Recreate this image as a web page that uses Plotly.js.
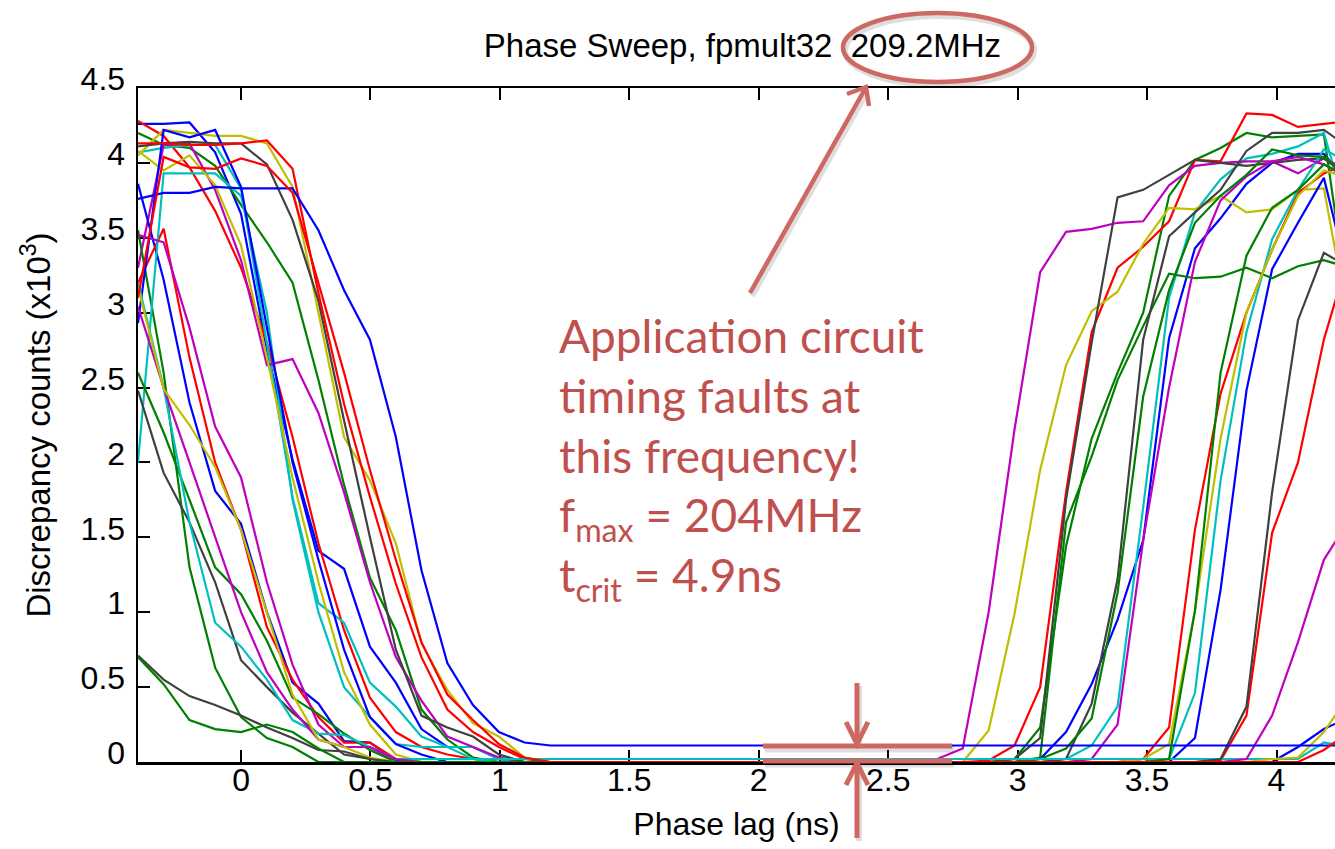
<!DOCTYPE html>
<html>
<head>
<meta charset="utf-8">
<script src="https://cdn.plot.ly/plotly-3.0.1.min.js"></script>
<style>html,body{margin:0;padding:0;background:#fff;}#chart{width:1335px;height:849px;}</style>
</head>
<body>
<div id="chart"></div>
<script>
// Phase lag (ns) sample positions
const phase = [-0.398,-0.299,-0.199,-0.100,0,0.100,0.199,0.299,0.398,0.498,0.598,0.697,0.797,0.896,0.996,1.095,1.195,1.295,1.394,1.494,1.593,1.693,1.793,1.892,1.992,2.091,2.191,2.290,2.390,2.490,2.589,2.689,2.788,2.888,2.988,3.087,3.187,3.286,3.386,3.485,3.585,3.685,3.784,3.884,3.983,4.083,4.183,4.282];

// Discrepancy counts (x10^3), one array per run
const run01 = [4.26,4.26,4.27,4.07,3.66,2.75,2.02,1.41,1.29,0.77,0.53,0.22,0.10,0.10,0.02,0,0, 0,0,0,0,0,0,0, 0,0,0,0,0,0,0, 0,0,0,0,0.02,0.2,0.52,0.95,1.48,2.83,3.43,3.63,3.86,4.0,4.06,4.06,3.85];
const run02 = [4.2,4.12,4.1,3.98,3.72,3.47,3.2,2.55,1.85,1.23,0.88,0.35,0.15,0.03,0,0,0, 0,0,0,0,0,0,0, 0,0,0,0,0,0,0, 0,0,0,0.02,0.23,1.44,2.16,2.6,3.0,3.78,4.02,4.1,4.2,4.17,4.18,4.19,3.0];
const run03 = [4.28,4.18,3.97,3.68,3.3,2.8,2.17,1.46,0.88,0.43,0.2,0.1,0.05,0.02,0,0,0, 0,0,0,0,0,0,0, 0,0,0,0,0,0,0, 0,0,0.01,0.11,0.5,1.8,2.87,3.3,3.44,3.61,4.02,4.01,4.33,4.32,4.24,4.26,4.28];
const run04 = [4.07,4.1,4.12,4.12,3.83,2.8,1.77,1.06,0.93,0.53,0.37,0.17,0.1,0.1,0.02,0,0, 0,0,0,0,0,0,0, 0,0,0,0,0,0,0, 0,0,0,0,0,0.02,0.11,0.37,1.7,3.1,3.67,3.89,4.03,4.06,4.11,4.2,3.6];
const run05 = [3.3,4.12,4.13,3.82,3.35,2.65,2.69,2.33,1.8,1.2,0.7,0.41,0.17,0.1,0.03,0,0, 0,0,0,0,0,0,0, 0,0,0,0,0,0,0, 0.02,0.09,1.0,2.22,3.27,3.54,3.56,3.6,3.61,3.85,3.98,4.0,4.01,4.01,3.93,4.03,3.95];
const run06 = [4.05,4.22,4.2,4.18,4.18,4.13,3.84,3.0,2.17,1.88,1.46,0.79,0.48,0.26,0.17,0.03,0, 0,0,0,0,0,0,0, 0,0,0,0,0,0,0, 0,0,0.21,0.99,1.95,2.65,3.01,3.14,3.46,3.7,3.69,3.78,3.67,3.69,3.82,3.83,2.9];
const run07 = [4.11,4.13,4.14,4.13,4.13,3.99,3.62,3.08,2.28,1.5,0.75,0.31,0.23,0.17,0.05,0,0, 0,0,0,0,0,0,0, 0,0,0,0,0,0,0, 0,0,0,0.02,0.16,1.75,2.8,3.77,3.82,3.92,4.02,4.0,3.98,4.0,4.02,4.03,3.9];
const run08 = [3.86,3.22,2.4,1.81,1.59,1.0,0.53,0.39,0.14,0.13,0.01,0,0,0,0,0,0, 0,0,0,0,0,0,0, 0,0,0,0,0,0,0, 0,0,0,0,0,0,0,0,0,0,0.16,1.15,2.48,3.29,3.6,3.9,3.2];
const run09 = [3.55,2.6,1.3,0.63,0.3,0.16,0.1,0,0,0,0,0,0,0,0,0,0, 0,0,0,0,0,0,0, 0,0,0,0,0,0,0, 0,0,0,0,0.03,1.6,2.04,2.55,2.91,3.26,3.23,3.24,3.3,3.23,3.31,3.35,3.3];
const run10 = [3.2,3.56,2.7,2.0,1.55,0.9,0.55,0.3,0.13,0.13,0.02,0,0,0,0,0,0, 0,0,0,0,0,0,0, 0,0,0,0,0,0,0, 0,0,0,0,0,0,0,0,0.02,0.23,1.55,2.46,3.0,3.42,3.8,3.93,4.0];
const run11 = [2.0,3.93,3.93,3.93,3.78,3.0,1.75,1.0,0.5,0.3,0.12,0.1,0.1,0.02,0,0,0, 0,0,0,0,0,0,0, 0,0,0,0,0,0,0, 0,0,0,0,0,0,0,0,0,0.02,0.46,1.88,2.87,3.49,3.82,4.09,4.0];
const run12 = [3.52,3.47,2.9,2.24,1.9,1.2,0.65,0.25,0.1,0.1,0,0,0,0,0,0,0, 0,0,0,0,0,0,0, 0,0,0,0,0,0,0, 0,0,0,0,0,0,0.02,0.25,1.48,2.5,3.34,3.75,3.91,4.01,4.04,3.99,3.9];
const run13 = [4.08,3.95,4.05,3.85,3.45,2.7,1.9,1.2,0.6,0.25,0.05,0,0,0,0,0,0, 0,0,0,0,0,0,0, 0,0,0,0,0,0,0, 0,0,0,0,0,0,0,0,0.02,0.12,1.01,2.16,3.0,3.42,3.78,3.95,3.9];
const run14 = [2.48,1.93,1.6,1.2,0.68,0.5,0.33,0.19,0.05,0.02,0,0,0,0,0,0,0, 0,0,0,0,0,0,0, 0,0,0,0,0,0,0, 0,0,0,0,0,0.02,0.39,1.22,2.82,3.51,3.67,3.82,4.08,4.2,4.2,4.22,4.1];
const run15 = [2.93,4.22,4.17,4.22,3.84,2.9,2.0,1.35,0.75,0.3,0.12,0.05,0,0,0,0,0, 0,0,0,0,0,0,0, 0,0,0,0,0,0,0, 0,0,0,0,0,0,0,0,0,0,0,0,0,0,0.1,0.22,0.3];
const run16 = [2.6,2.2,1.75,1.3,1.12,0.81,0.43,0.32,0.19,0.08,0,0,0,0,0,0,0, 0,0,0,0,0,0,0, 0,0,0,0,0,0,0, 0,0,0,0,0.02,0.09,0.29,1.13,2.44,3.15,3.6,3.78,3.92,4.09,4.05,4.04,3.9];
const run17 = [4.13,4.13,4.12,4.12,4.13,4.15,3.96,3.13,2.39,1.77,1.19,0.7,0.35,0.2,0.1,0.02,0, 0,0,0,0,0,0,0, 0,0,0,0,0,0,0, 0,0,0,0,0,0,0,0,0,0,0,0.01,0.31,1.53,2.0,2.82,3.4];
const run18 = [3.2,2.5,1.6,0.93,0.77,0.55,0.28,0.19,0.18,0.1,0.02,0.02,0.02,0.02,0.02,0.02,0.02, 0.02,0.02,0.02,0.02,0.02,0.02,0.02, 0.02,0.02,0.02,0.02,0.02,0.02,0.02, 0.02,0.02,0.02,0.02,0.02,0.02,0.02,0.02,0.02,0.02,0.02,0.02,0.02,0.02,0.02,0.13,0.1];
const run19 = [3.04,2.5,2.0,1.5,1.0,0.6,0.35,0.15,0.1,0.1,0.02,0,0,0,0,0,0, 0,0,0,0,0,0,0, 0,0,0,0,0,0,0, 0,0,0,0,0,0,0,0,0,0,0,0,0.02,0.31,0.8,1.35,1.62];
const run20 = [3.17,2.49,2.25,1.97,1.55,1.0,0.45,0.15,0.1,0.03,0,0,0,0,0,0,0, 0,0,0,0,0,0,0, 0,0,0,0,0,0,0, 0,0,0,0,0,0,0,0,0,0,0,0,0,0.02,0.03,0.2,0.45];
const run21 = [0.71,0.55,0.44,0.38,0.31,0.23,0.16,0.08,0.07,0.02,0,0,0,0,0,0,0, 0,0,0,0,0,0,0, 0,0,0,0,0,0,0, 0,0,0,0,0,0,0,0,0,0,0,0.02,0.37,1.8,2.95,3.4,3.3];
const run22 = [3.76,3.8,3.8,3.84,3.83,3.83,3.83,3.55,3.15,2.82,2.17,1.28,0.66,0.38,0.2,0.13,0.11, 0.11,0.11,0.11,0.11,0.11,0.11,0.11, 0.11,0.11,0.11,0.11,0.11,0.11,0.11, 0.11,0.11,0.11,0.11,0.11,0.11,0.11,0.11,0.11,0.11,0.11,0.11,0.11,0.11,0.11,0.11,0.11];
const run23 = [0.7,0.52,0.28,0.22,0.2,0.25,0.2,0.09,0,0,0,0,0,0,0,0,0, 0,0,0,0,0,0,0, 0,0,0,0,0,0,0, 0,0,0,0,0,0,0,0,0,0.02,1.01,2.6,3.38,3.7,3.82,3.99,3.9];
const run24 = [3.1,4.04,3.97,3.96,4.03,3.98,3.8,3.2,2.6,1.95,1.35,0.8,0.45,0.28,0.12,0.03,0, 0,0,0,0,0,0,0, 0,0,0,0,0,0,0, 0,0,0,0,0,0,0,0,0,0,0,0,0,0,0,0.08,0.2];

const runs = [run01,run02,run03,run04,run05,run06,run07,run08,run09,run10,run11,run12,run13,run14,run15,run16,run17,run18,run19,run20,run21,run22,run23,run24];

// MATLAB-style colour order b g r c m y k
const colorOrder = ['#0000ff','#008000','#ff0000','#00bfbf','#bf00bf','#bfbf00','#404040'];

const yTickVals = [0,0.5,1,1.5,2,2.5,3,3.5,4,4.5];
const yTickText = ['0','0.5','1','1.5','2','2.5','3','3.5','4','4.5'];
const xTickVals = [0,0.5,1,1.5,2,2.5,3,3.5,4];
const xTickText = ['0','0.5','1','1.5','2','2.5','3','3.5','4'];

const traces = runs.map((r, i) => ({
  x: phase, y: r, type: 'scatter', mode: 'lines',
  line: {color: colorOrder[i % 7], width: 2.2},
  hoverinfo: 'skip', showlegend: false
}));

// plot-area pixel frame for annotation placement
const L = 138, R = 1335, T = 88, B = 762;
const px = v => (v - L) / (R - L);
const py = v => (B - v) / (B - T);
const ann = 'rgb(206,104,98)';
const shadow = 'rgba(0,0,0,0.13)';
const lineShape = (x0, y0, x1, y1, w, c) => ({type:'line', xref:'paper', yref:'paper', x0:px(x0), y0:py(y0), x1:px(x1), y1:py(y1), line:{color:c || ann, width:w}});
const pathShape = (pts, w, c) => ({type:'path', xref:'paper', yref:'paper',
  path: pts.map((p, k) => (k ? 'L ' : 'M ') + px(p[0]) + ' ' + py(p[1])).join(' '),
  line:{color:c || ann, width:w}});

// soft shadows (offset copies) under the bracket and arrows
const sx = 2, sy = 3;
const shapes = [
  {type:'circle', xref:'paper', yref:'paper', x0:px(843+sx), x1:px(1032+sx), y0:py(82+sy), y1:py(13+sy), line:{color:shadow, width:6}},
  lineShape(750+sx, 293+sy, 865+sx, 89+sy, 6, shadow),
  lineShape(763+sx, 746+sy, 952+sx, 746+sy, 7, shadow),
  lineShape(763+sx, 761+sy, 952+sx, 761+sy, 7, shadow),
  lineShape(857+sx, 683+sy, 857+sx, 742+sy, 6, shadow),
  lineShape(857+sx, 838+sy, 857+sx, 766+sy, 6, shadow),
  {type:'circle', xref:'paper', yref:'paper', x0:px(843), x1:px(1032), y0:py(82), y1:py(13), line:{color:ann, width:4.5}},
  lineShape(750, 293, 865, 89, 4.5),
  pathShape([[847,94],[866,87],[869,106]], 4.5),
  lineShape(763, 746, 952, 746, 5),
  lineShape(763, 761, 952, 761, 5),
  lineShape(857, 683, 857, 742, 5),
  pathShape([[846,722],[857,744],[868,722]], 5),
  lineShape(857, 838, 857, 766, 5),
  pathShape([[846,785],[857,763],[868,785]], 5)
];

const axisFont = {family:'Liberation Sans, Arial, sans-serif', size:32, color:'#000'};

const layout = {
  width: 1335, height: 849,
  margin: {l: L, r: 0, t: T, b: 849 - B},
  paper_bgcolor: '#fff', plot_bgcolor: '#fff',
  font: axisFont,
  showlegend: false,
  title: {text: 'Phase Sweep, fpmult32 \u00a0209.2MHz', font: {family:'Liberation Sans, Arial, sans-serif', size:33, color:'#000'},
          xref:'paper', x:0.505, xanchor:'center', yref:'container', y: 1 - 45/849, yanchor:'middle'},
  xaxis: {
    range: [-0.398, 4.226], tickvals: xTickVals, ticktext: xTickText,
    ticks: 'inside', ticklen: 12, tickwidth: 2, tickcolor: '#000',
    showline: true, linecolor: '#000', linewidth: 2.5, mirror: 'ticks',
    showgrid: false, zeroline: false, layer: 'below traces',
    tickfont: axisFont, ticklabelstandoff: -12,
    title: {text: 'Phase lag (ns)', font: axisFont, standoff: 16}
  },
  yaxis: {
    range: [0, 4.5], tickvals: yTickVals, ticktext: yTickText,
    ticks: 'inside', ticklen: 12, tickwidth: 2, tickcolor: '#000',
    showline: true, linecolor: '#000', linewidth: 2.5, mirror: false,
    showgrid: false, zeroline: false, layer: 'below traces',
    tickfont: axisFont, ticklabelstandoff: 4, ticklabelshift: -9,
    title: {text: 'Discrepancy counts (x10<sup>3</sup>)', font: {family:'Liberation Sans, Arial, sans-serif', size:33, color:'#000'}, standoff: 20}
  },
  shapes: shapes,
  annotations: [{
    xref:'paper', yref:'paper', x: px(557), y: py(306), xanchor:'left', yanchor:'top', align:'left',
    showarrow:false,
    text:'Application circuit<br>timing faults at<br>this frequency!<br>f<sub>max</sub> = 204MHz<br>t<sub>crit</sub> = 4.9ns',
    font:{family:'Lato, Carlito, sans-serif', size:46, color:'#C0504D'}
  }]
};

Plotly.newPlot('chart', traces, layout, {displayModeBar:false, staticPlot:true});
</script>
</body>
</html>
